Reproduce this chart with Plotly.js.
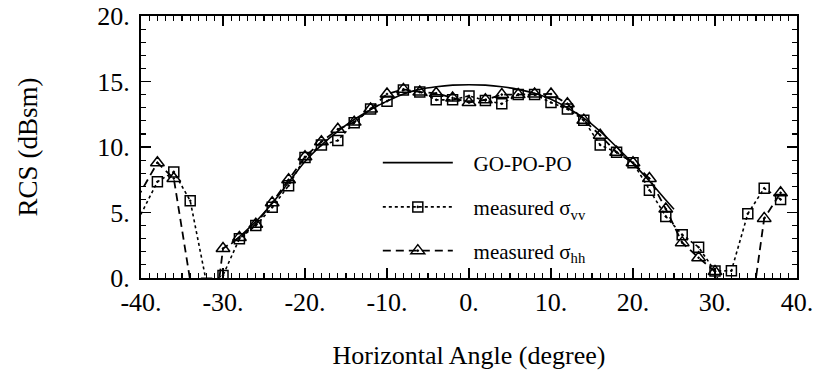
<!DOCTYPE html>
<html>
<head>
<meta charset="utf-8">
<script src="https://cdn.plot.ly/plotly-3.0.1.min.js"></script>
<style>html,body{margin:0;padding:0;background:#fff;}#chart{width:819px;height:391px;}</style>
</head>
<body>
<div id="chart"></div>
<script>
// Horizontal angle (degree) for measured data
const angles = [-42, -38, -36, -34, -32, -30, -28, -26, -24, -22, -20, -18, -16, -14, -12, -10, -8, -6, -4, -2,
                0, 2, 4, 6, 8, 10, 12, 14, 16, 18, 20, 22, 24, 26, 28, 30, 32, 34, 36, 38];
// measured sigma_vv (dBsm)
const sigmaVV = [2.4, 7.35, 8.1, 5.9, -0.4, 0.2, 3.0, 4.0, 5.4, 7.05, 9.2, 10.15, 10.5, 11.85, 12.9, 13.5, 14.35, 14.2, 13.6, 13.6,
                 13.9, 13.55, 13.3, 14.0, 14.0, 13.4, 12.9, 12.05, 10.15, 9.6, 8.8, 6.7, 4.7, 3.3, 2.35, 0.53, 0.56, 4.9, 6.85, 6.0];
// measured sigma_hh (dBsm)
const sigmaHH = [4.4, 8.8, 7.6, -1.2, -8.0, 2.25, 3.1, 4.1, 5.75, 7.5, 9.25, 10.4, 11.35, 11.9, 12.9, 14.05, 14.4, 14.2, 14.1, 13.75,
                 13.4, 13.6, 14.0, 14.0, 14.05, 14.05, 13.3, 12.05, 10.9, 9.6, 8.8, 7.6, 5.27, 2.7, 1.55, 0.5, -3.0, -4.5, 4.55, 6.5];
// GO-PO-PO prediction
const theoryAngles = [-29, -28, -26, -24, -22, -20, -18, -16, -14, -12, -10, -8, -6, -4, -2, 0, 2, 4, 6, 8, 10, 12, 14, 16, 18, 20, 22, 24, 25];
const theoryRCS = [2.6, 3.15, 4.3, 5.7, 7.3, 8.9, 10.15, 11.2, 12.1, 12.85, 13.5, 14.05, 14.4, 14.6, 14.72, 14.75, 14.72, 14.6, 14.4, 14.1,
                   13.65, 13.0, 12.2, 11.2, 10.0, 8.75, 7.4, 5.95, 5.25];
// tick labels
const xTickVals = [-40, -30, -20, -10, 0, 10, 20, 30, 40];
const xTickText = ['-40.', '-30.', '-20.', '-10.', '0.', '10.', '20.', '30.', '40.'];
const yTickVals = [0, 5, 10, 15, 20];
const yTickText = ['0.', '5.', '10.', '15.', '20.'];
const seriesNames = ['GO-PO-PO', 'measured σ<sub>vv</sub>', 'measured σ<sub>hh</sub>'];

const FONT = '"Liberation Serif", "Times New Roman", Times, serif';
const GAP = '\u00a0\u00a0\u00a0';

const traces = [
  {x: theoryAngles, y: theoryRCS, name: GAP + seriesNames[0], mode: 'lines', line: {color: '#000', width: 1.6, shape: 'spline'}, legend: 'legend'},
  {x: angles, y: sigmaVV, name: GAP + seriesNames[1], mode: 'lines+markers',
   line: {color: '#000', width: 1.6, dash: '3px,3px'},
   marker: {symbol: 'square-open-dot', size: 10, color: '#000', line: {width: 1.5, color: '#000'}}, legend: 'legend2'},
  {x: angles, y: sigmaHH, name: GAP + seriesNames[2], mode: 'lines+markers',
   line: {color: '#000', width: 1.8, dash: '8px,5px'},
   marker: {symbol: 'triangle-up-open-dot', size: 12, color: '#000', line: {width: 1.5, color: '#000'}}, legend: 'legend3'}
];

function legendAt(y) {
  return {x: 0.361, y: y, xanchor: 'left', yanchor: 'middle', bgcolor: 'rgba(0,0,0,0)',
          font: {family: FONT, size: 21, color: '#000'}, itemwidth: 70};
}

const layout = {
  width: 819, height: 391,
  margin: {l: 141, r: 22, t: 16, b: 113},
  paper_bgcolor: '#fff', plot_bgcolor: '#fff',
  font: {family: FONT, color: '#000'},
  showlegend: true,
  legend: legendAt(0.439),
  legend2: legendAt(0.27),
  legend3: legendAt(0.103),
  xaxis: {
    range: [-40, 40], tickmode: 'array', tickvals: xTickVals, ticktext: xTickText,
    ticks: 'inside', ticklen: 10, tickwidth: 1.5, tickcolor: '#000',
    showline: true, linewidth: 2, linecolor: '#000', mirror: 'allticks',
    showgrid: false, zeroline: false, ticklabelstandoff: 0,
    tickfont: {family: FONT, size: 26, color: '#000'},
    minor: {tickmode: 'linear', tick0: 0, dtick: 1, ticks: 'inside', ticklen: 5, tickwidth: 1.2, tickcolor: '#000', showgrid: false},
    title: {text: 'Horizontal Angle (degree)', font: {family: FONT, size: 26, color: '#000'}, standoff: 30}
  },
  yaxis: {
    range: [0, 20], tickmode: 'array', tickvals: yTickVals, ticktext: yTickText,
    ticks: 'inside', ticklen: 10, tickwidth: 1.5, tickcolor: '#000',
    showline: true, linewidth: 2, linecolor: '#000', mirror: 'allticks',
    showgrid: false, zeroline: false, ticklabelstandoff: 4,
    tickfont: {family: FONT, size: 26, color: '#000'},
    minor: {tickmode: 'linear', tick0: 0, dtick: 1, ticks: 'inside', ticklen: 5, tickwidth: 1.2, tickcolor: '#000', showgrid: false},
    title: {text: 'RCS (dBsm)', font: {family: FONT, size: 27, color: '#000'}, standoff: 52}
  }
};

Plotly.newPlot('chart', traces, layout, {displayModeBar: false, staticPlot: true});
</script>
</body>
</html>
